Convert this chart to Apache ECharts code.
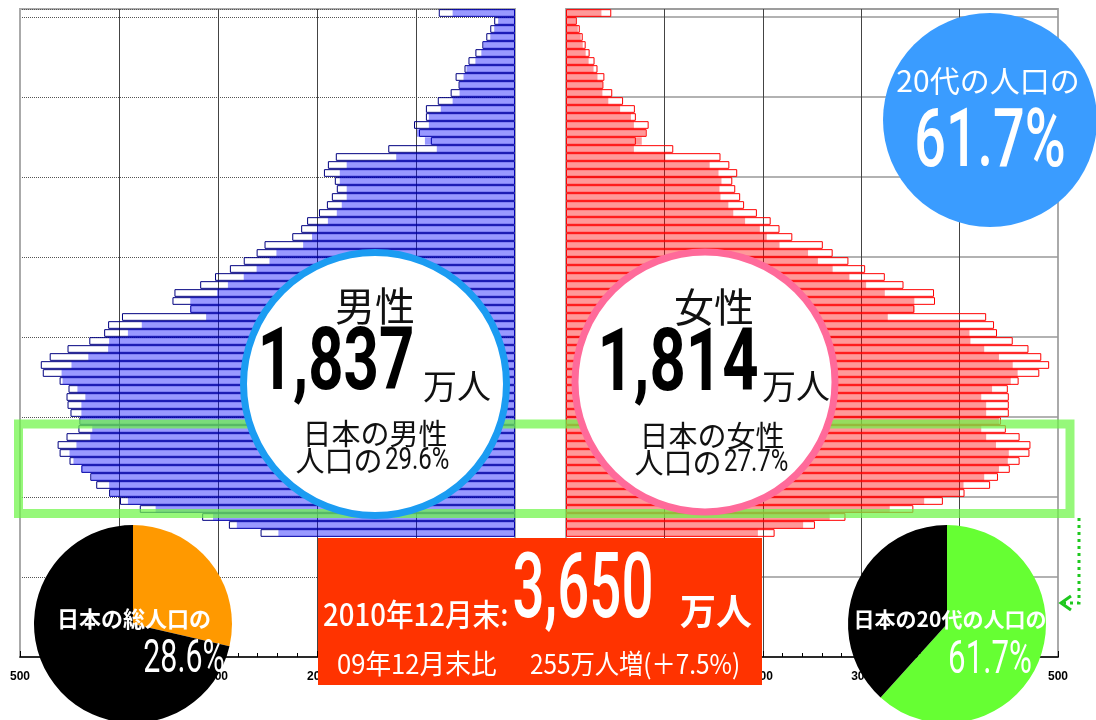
<!DOCTYPE html>
<html><head><meta charset="utf-8">
<script src="https://cdn.jsdelivr.net/npm/echarts@6/dist/echarts.min.js"></script>
<style>html,body{margin:0;padding:0;background:#fff}#c{width:1096px;height:720px}</style>
</head><body><div id="c"></div>
<script>
// ---- DATA (ages 15 .. 80+, bottom to top; values in 千人) ----
const firstAge = 15;
const ageLabels = []; for (let a = 0; a <= 80; a++) ageLabels.push(a === 80 ? '80+' : String(a));
const xTicks = [0, 100, 200, 300, 400, 500];

const maleOutline = [257,289,316,379,399,410,423,429,438,450,
  460,462,453,441,440,449,452,453,451,460,
  477,479,470,452,430,415,411,397,328,346,
  344,318,303,288,274,261,253,225,216,210,
  198,190,185,180,182,193,189,181,128,85,
  97,102,90,90,78,65,57,60,51,47,
  40,33,29,25,21,77];
const maleFill = [239,281,305,363,391,409,410,428,438,446,
  450,443,429,427,439,438,438,434,442,457,
  458,448,431,411,410,391,377,312,328,328,
  301,290,274,261,248,241,214,205,200,189,
  180,175,170,170,177,177,170,120,79,91,
  99,87,87,75,63,56,56,52,49,40,
  34,32,25,21,17,63];
const femaleOutline = [212,253,284,353,383,405,431,439,451,461,
  471,472,461,447,442,450,450,450,449,460,
  481,491,483,470,454,438,435,427,354,375,
  374,343,324,304,287,271,261,230,217,208,
  194,181,177,172,169,174,166,157,109,71,
  82,84,71,70,58,47,38,39,32,29,
  24,20,17,14,11,46];
const femaleFill = [195,241,268,329,364,400,404,425,440,449,
  450,437,427,422,440,427,427,422,433,452,
  459,454,440,425,411,410,400,327,354,354,
  324,305,288,271,256,246,217,204,197,182,
  170,165,157,156,158,155,146,101,69,77,
  81,69,66,55,43,37,37,32,28,23,
  20,17,15,12,10,36];
const totalShare = [28.6, 71.4];     // 日本の総人口に占める割合
const twentiesShare = [61.7, 38.3];  // 日本の20代人口に占める割合

// ---- build ----
const pad = arr => Array(firstAge).fill(null).concat(arr);
const JP = '"Noto Sans CJK JP"';
const chart = echarts.init(document.getElementById('c'), null, {renderer: 'canvas'});

function xAxisCfg(gi, inverse) {
  return {
    gridIndex: gi, type: 'value', inverse: inverse, min: 0, max: 500, interval: 100,
    axisLine: {show: true, onZero: false, lineStyle: {color: '#000', width: 1.5}},
    axisTick: {show: true, inside: true, length: 6, lineStyle: {color: '#000'}},
    minorTick: {show: true, splitNumber: 5, length: 4, lineStyle: {color: '#000'}},
    axisLabel: {show: true, margin: 14, fontSize: 12, fontWeight: 'bold', color: '#000', fontFamily: 'Liberation Sans',
      formatter: v => xTicks.indexOf(v) >= 0 ? String(v) : ''},
    splitLine: {show: true, lineStyle: {color: ['#aaa', '#444', '#444', '#444', '#444', '#aaa'], width: 1}}
  };
}
function yAxisCfg(gi, dotted) {
  return {
    gridIndex: gi, type: 'category', data: ageLabels, boundaryGap: true,
    axisLine: {show: false}, axisTick: {show: false}, axisLabel: {show: false},
    splitLine: {show: true, interval: (i) => i % 10 === 0 && i > 0,
      lineStyle: dotted ? {color: '#555', type: 'dotted', width: 1} : {color: '#999', width: 1.5}}
  };
}

const G = [];
function txt(text, x, y, font, fill, opt) {
  opt = opt || {};
  const align = opt.align || 'center';
  G.push({type: 'text', x: x, y: y, z: 80, scaleX: opt.sx || 1, silent: true,
    style: {text: text, font: font, fill: fill, align: align, verticalAlign: 'middle',
      textAlign: align, textVerticalAlign: 'middle'}});
}
// green highlight box (20代)
G.push({type: 'rect', z: 50, silent: true, shape: {x: 18.5, y: 424, width: 1051.5, height: 89.5},
  style: {fill: 'none', stroke: 'rgba(110,245,70,0.72)', lineWidth: 9}});
// green dotted arrow
G.push({type: 'polyline', z: 55, silent: true, shape: {points: [[1079, 518], [1079, 603], [1064, 603]]},
  style: {fill: 'none', stroke: '#1ec81e', lineWidth: 3, lineDash: [3, 4]}});
G.push({type: 'polyline', z: 55, silent: true, shape: {points: [[1071, 596], [1061, 603], [1071, 610]]},
  style: {fill: 'none', stroke: '#1ec81e', lineWidth: 3}});
// circles
G.push({type: 'circle', z: 60, silent: true, shape: {cx: 375, cy: 384, r: 131.5},
  style: {fill: '#fff', stroke: '#1b9cf2', lineWidth: 7}});
G.push({type: 'circle', z: 60, silent: true, shape: {cx: 705, cy: 382, r: 130},
  style: {fill: '#fff', stroke: '#ff6a9a', lineWidth: 7}});
G.push({type: 'circle', z: 60, silent: true, shape: {cx: 990, cy: 120, r: 107},
  style: {fill: '#3a9cff'}});
// red box
G.push({type: 'rect', z: 60, silent: true, shape: {x: 318, y: 538, width: 444, height: 147},
  style: {fill: '#ff3300'}});

// male circle texts
txt('男性', 375, 306, `40px ${JP}`, '#111');
txt('1,837', 336, 367, 'bold 88px Roboto', '#000', {sx: 0.70});
txt('万人', 457, 386, `34px ${JP}`, '#111');
txt('日本の男性', 375, 434, `29px ${JP}`, '#111');
txt('人口の', 339, 461, `29px ${JP}`, '#111');
txt('29.6%', 385, 461, '32px Roboto', '#111', {align: 'left', sx: 0.75});
// female circle texts
txt('女性', 714, 307, `40px ${JP}`, '#111');
txt('1,814', 678, 368, 'bold 88px Roboto', '#000', {sx: 0.72});
txt('万人', 796, 386, `34px ${JP}`, '#111');
txt('日本の女性', 712, 436, `29px ${JP}`, '#111');
txt('人口の', 678, 463, `29px ${JP}`, '#111');
txt('27.7%', 724, 463, '32px Roboto', '#111', {align: 'left', sx: 0.75});
// top right circle
txt('20代の人口の', 988, 81, `30px ${JP}`, '#fff');
txt('61.7%', 990, 145, '500 82px Roboto', '#fff', {sx: 0.68});
// red box texts
txt('2010年12月末:', 323, 614, `500 31px ${JP}`, '#fff', {align: 'left', sx: 0.89});
txt('3,650', 583, 594, '500 91px Roboto', '#fff', {sx: 0.62});
txt('万人', 716, 611, `bold 36px ${JP}`, '#fff');
txt('09年12月末比', 337, 664, `27px ${JP}`, '#fff', {align: 'left', sx: 0.95});
txt('255万人増(＋7.5%)', 530, 664, `27px ${JP}`, '#fff', {align: 'left', sx: 0.9});
// pie texts
txt('日本の総人口の', 134, 619, `bold 22px ${JP}`, '#fff');
txt('28.6%', 184, 660, '46px Roboto', '#fff', {sx: 0.66});
txt('日本の20代の人口の', 950, 619, `bold 21px ${JP}`, '#fff');
txt('61.7%', 990, 661, '46px Roboto', '#fff', {sx: 0.68});

const barBase = {type: 'bar', barCategoryGap: '4%', barGap: '-100%', silent: true};
const option = {
  animation: false,
  backgroundColor: '#fff',
  grid: [
    {left: 20, top: 9, width: 495, height: 648, show: true, borderColor: '#aaa', borderWidth: 2},
    {left: 566, top: 9, width: 492, height: 648, show: true, borderColor: '#aaa', borderWidth: 2}
  ],
  xAxis: [xAxisCfg(0, true), xAxisCfg(1, false)],
  yAxis: [yAxisCfg(0, true), yAxisCfg(1, false)],
  series: [
    Object.assign({}, barBase, {name: '男性枠', xAxisIndex: 0, yAxisIndex: 0, data: pad(maleOutline), z: 2,
      itemStyle: {color: 'rgba(0,0,0,0)', borderColor: '#000080', borderWidth: 1}}),
    Object.assign({}, barBase, {name: '男性', xAxisIndex: 0, yAxisIndex: 0, data: pad(maleFill), z: 3,
      itemStyle: {color: 'rgba(0,0,255,0.4)'}}),
    Object.assign({}, barBase, {name: '女性枠', xAxisIndex: 1, yAxisIndex: 1, data: pad(femaleOutline), z: 2,
      itemStyle: {color: 'rgba(0,0,0,0)', borderColor: '#ff0000', borderWidth: 1}}),
    Object.assign({}, barBase, {name: '女性', xAxisIndex: 1, yAxisIndex: 1, data: pad(femaleFill), z: 3,
      itemStyle: {color: 'rgba(255,0,0,0.4)'}}),
    {type: 'pie', center: [133, 624], radius: 99, startAngle: 90, clockwise: true, silent: true, z: 5,
      label: {show: false}, labelLine: {show: false},
      data: [{value: totalShare[0], itemStyle: {color: '#ff9900'}}, {value: totalShare[1], itemStyle: {color: '#000'}}]},
    {type: 'pie', center: [947, 624], radius: 99, startAngle: 90, clockwise: true, silent: true, z: 5,
      label: {show: false}, labelLine: {show: false},
      data: [{value: twentiesShare[0], itemStyle: {color: '#66ff33'}}, {value: twentiesShare[1], itemStyle: {color: '#000'}}]}
  ],
  graphic: {elements: G}
};
chart.setOption(option);
</script></body></html>
